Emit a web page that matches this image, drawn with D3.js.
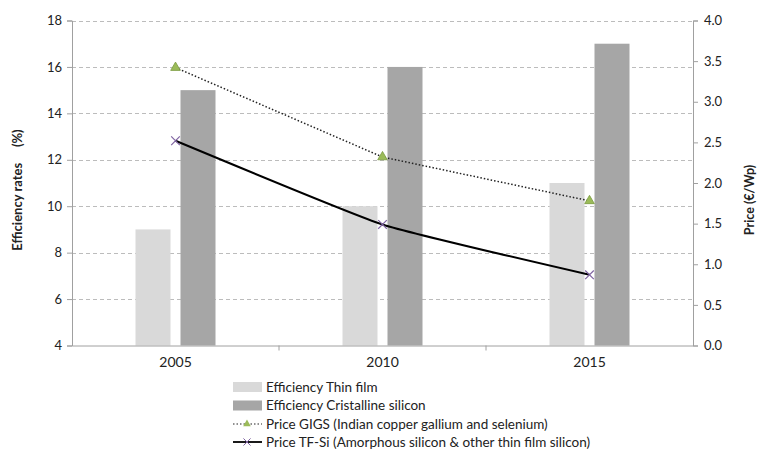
<!DOCTYPE html>
<html>
<head>
<meta charset="utf-8">
<script src="https://cdn.jsdelivr.net/npm/d3@7"></script>
<style>
  body { margin: 0; background: #fff; }
  text { font-family: Lato, "Liberation Sans", sans-serif; fill: #222; }
</style>
</head>
<body>
<svg id="chart" width="759" height="450"></svg>
<script>
"use strict";

// data
var years = ["2005", "2010", "2015"];
var thinFilm = [9, 10, 11];
var cristalline = [15, 16, 17];
var priceGigs = [3.42, 2.32, 1.78];
var priceTfSi = [2.52, 1.49, 0.87];
var leftTicks = [4, 6, 8, 10, 12, 14, 16, 18];
var rightTicks = [0, 0.5, 1, 1.5, 2, 2.5, 3, 3.5, 4];
var legendLabels = [
  "Efficiency Thin film",
  "Efficiency Cristalline silicon",
  "Price GIGS (Indian copper gallium and selenium)",
  "Price TF-Si (Amorphous silicon & other thin film silicon)"
];

var svg = d3.select("#chart");

var plotLeft = 72, plotRight = 693, plotTop = 20.5, plotBottom = 345.5;

var x = d3.scaleBand().domain(years).range([plotLeft, plotRight]);
var yL = d3.scaleLinear().domain([4, 18]).range([plotBottom, plotTop]);
var yR = d3.scaleLinear().domain([0, 4]).range([plotBottom, plotTop]);

    // grid
svg.append("g")
  .attr("class", "grid")
  .selectAll("line")
  .data(leftTicks.filter(function (d) { return d > 4; }))
  .join("line")
    .attr("x1", plotLeft).attr("x2", plotRight)
    .attr("y1", function (d) { return Math.round(yL(d)) + 0.5; })
    .attr("y2", function (d) { return Math.round(yL(d)) + 0.5; })
    .attr("stroke", "#bcbcbc")
    .attr("stroke-width", 1)
    .attr("stroke-dasharray", "4,3");

    // bars
var barW = 35, gap = 10;
svg.append("g")
  .selectAll("rect")
  .data(thinFilm)
  .join("rect")
    .attr("x", function (d, i) { return x(years[i]) + x.bandwidth() / 2 - gap / 2 - barW; })
    .attr("y", function (d) { return yL(d); })
    .attr("width", barW)
    .attr("height", function (d) { return plotBottom - yL(d); })
    .attr("fill", "#d9d9d9");

svg.append("g")
  .selectAll("rect")
  .data(cristalline)
  .join("rect")
    .attr("x", function (d, i) { return x(years[i]) + x.bandwidth() / 2 + gap / 2; })
    .attr("y", function (d) { return yL(d); })
    .attr("width", barW)
    .attr("height", function (d) { return plotBottom - yL(d); })
    .attr("fill", "#a6a6a6");

    // axes
var axL = svg.append("g")
  .attr("transform", "translate(" + plotLeft + ",0)")
  .call(d3.axisLeft(yL).tickValues(leftTicks).tickSize(5).tickPadding(5));

var axR = svg.append("g")
  .attr("transform", "translate(" + plotRight + ",0)")
  .call(d3.axisRight(yR).tickValues(rightTicks).tickSize(5).tickPadding(6)
        .tickFormat(d3.format(".1f")));

var axB = svg.append("g")
  .attr("transform", "translate(0," + plotBottom + ")")
  .call(d3.axisBottom(x).tickSize(0).tickPadding(12));

svg.append("g")
  .selectAll("line")
  .data(years.slice(1))
  .join("line")
    .attr("x1", function (d) { return x(d); })
    .attr("x2", function (d) { return x(d); })
    .attr("y1", plotBottom).attr("y2", plotBottom + 5)
    .attr("stroke", "#a0a0a0");

[axL, axR, axB].forEach(function (a) {
  a.selectAll("path.domain").attr("stroke", "#a0a0a0");
  a.selectAll(".tick line").attr("stroke", "#a0a0a0");
  a.selectAll(".tick text").style("font-family", "Lato, sans-serif").attr("fill", "#222");
});
axL.selectAll(".tick text").style("font-size", "13px");
axR.selectAll(".tick text").style("font-size", "13px");
axB.selectAll(".tick text").style("font-size", "14px");

    // price lines
var cx = function (d, i) { return x(years[i]) + x.bandwidth() / 2; };

svg.append("path")
  .datum(priceGigs)
  .attr("d", d3.line().x(cx).y(function (d) { return yR(d); }))
  .attr("fill", "none")
  .attr("stroke", "#222")
  .attr("stroke-width", 1.5)
  .attr("stroke-dasharray", "1.5,2");

svg.append("path")
  .datum(priceTfSi)
  .attr("d", d3.line().x(cx).y(function (d) { return yR(d); }).curve(d3.curveCardinal.tension(0.6)))
  .attr("fill", "none")
  .attr("stroke", "#000")
  .attr("stroke-width", 2);

var tri = d3.symbol().type(d3.symbolTriangle).size(40);
svg.append("g")
  .selectAll("path")
  .data(priceGigs)
  .join("path")
    .attr("transform", function (d, i) { return "translate(" + cx(d, i) + "," + yR(d) + ")"; })
    .attr("d", tri())
    .attr("fill", "#9bbb59")
    .attr("stroke", "#7a9a40")
    .attr("stroke-width", 0.8);

var cross = d3.symbol().type(d3.symbolX).size(50);
svg.append("g")
  .selectAll("path")
  .data(priceTfSi)
  .join("path")
    .attr("transform", function (d, i) { return "translate(" + cx(d, i) + "," + yR(d) + ")"; })
    .attr("d", cross())
    .attr("fill", "none")
    .attr("stroke", "#8064a2")
    .attr("stroke-width", 1.2);

    // axis titles
svg.append("text")
  .attr("transform", "translate(22,190) rotate(-90)")
  .attr("text-anchor", "middle")
  .style("font-size", "13px")
  .style("font-weight", "bold")
  .attr("xml:space", "preserve")
  .text("Efficiency rates     (%)");

svg.append("text")
  .attr("transform", "translate(754,200) rotate(-90)")
  .attr("text-anchor", "middle")
  .style("font-size", "12.5px")
  .style("font-weight", "bold")
  .text("Price (€/Wp)");

    // legend
var lg = svg.append("g").attr("transform", "translate(233,0)");
var rowY = [387, 405.5, 424, 442];

lg.append("rect").attr("x", 0).attr("y", rowY[0] - 5).attr("width", 29).attr("height", 10).attr("fill", "#d9d9d9");
lg.append("rect").attr("x", 0).attr("y", rowY[1] - 5).attr("width", 29).attr("height", 10).attr("fill", "#a6a6a6");

lg.append("line").attr("x1", 0).attr("x2", 29).attr("y1", rowY[2]).attr("y2", rowY[2])
  .attr("stroke", "#222").attr("stroke-width", 1.2).attr("stroke-dasharray", "1.5,2");
lg.append("path").attr("transform", "translate(14," + rowY[2] + ")").attr("d", d3.symbol().type(d3.symbolTriangle).size(25)())
  .attr("fill", "#9bbb59");

lg.append("line").attr("x1", 0).attr("x2", 29).attr("y1", rowY[3]).attr("y2", rowY[3])
  .attr("stroke", "#000").attr("stroke-width", 1.8);
lg.append("path").attr("transform", "translate(14," + rowY[3] + ")").attr("d", d3.symbol().type(d3.symbolX).size(35)())
  .attr("fill", "none").attr("stroke", "#8064a2");

lg.selectAll("text.lab")
  .data(legendLabels)
  .join("text")
    .attr("class", "lab")
    .attr("x", 33)
    .attr("y", function (d, i) { return rowY[i]; })
    .attr("dy", "0.35em")
    .style("font-size", "13.5px")
    .text(function (d) { return d; });
</script>
</body>
</html>
